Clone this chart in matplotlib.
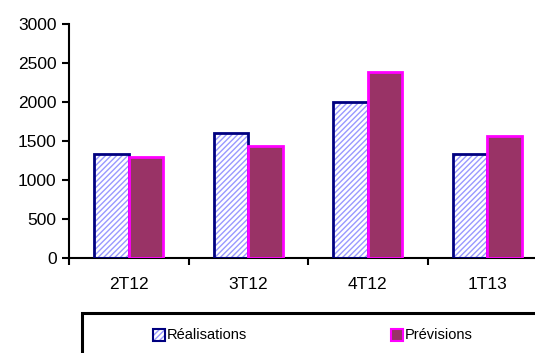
import matplotlib.pyplot as plt
from matplotlib.patches import Rectangle
import numpy as np

plt.rcParams['font.family'] = ['Liberation Sans', 'DejaVu Sans']
plt.rcParams['hatch.linewidth'] = 1.0

# Quarterly figures
quarters = ["2T12", "3T12", "4T12", "1T13"]
realisations = [1330, 1600, 2000, 1330]
previsions = [1300, 1430, 2380, 1560]
yticks = [0, 500, 1000, 1500, 2000, 2500, 3000]

W, H = 535, 353
fig = plt.figure(figsize=(W / 100, H / 100), dpi=100)
ax = fig.add_axes([69 / W, 95 / H, 478 / W, 234 / H])

x = np.arange(len(quarters))
bw = 0.29

# hatched bars: stripes first, then the navy outline on top
ax.bar(x - bw / 2, realisations, bw, facecolor="white", edgecolor="#9999ff",
       hatch="//////", linewidth=0, zorder=2)
ax.bar(x - bw / 2, realisations, bw, fill=False, edgecolor="#000080",
       linewidth=2, zorder=3)
ax.bar(x + bw / 2, previsions, bw, color="#993366", edgecolor="#ff00ff",
       linewidth=2, zorder=3)

ax.set_xlim(-0.5, 3.5)
ax.set_ylim(0, 3000)
ax.set_yticks(yticks)
ax.tick_params(axis="y", labelsize=12.5, length=5, width=1.5, pad=4)

# boundary ticks on the category axis, labels centred between them
ax.set_xticks(np.arange(-0.5, 4, 1))
ax.set_xticklabels([])
ax.set_xticks(x, minor=True)
ax.set_xticklabels(quarters, minor=True)
ax.tick_params(axis="x", which="major", length=5, width=1.5)
ax.tick_params(axis="x", which="minor", length=0, labelsize=12.5, pad=14)

for side in ("top", "right"):
    ax.spines[side].set_visible(False)
for side in ("left", "bottom"):
    ax.spines[side].set_linewidth(1.5)

# legend frame
fig.patches.append(Rectangle((82 / W, -0.05), 470 / W, (H - 313) / H + 0.05,
                             transform=fig.transFigure, fill=False,
                             edgecolor="black", linewidth=2.2))
ms = 12
fig.patches.append(Rectangle((153 / W, (H - 341) / H), ms / W, ms / H,
                             transform=fig.transFigure, facecolor="white",
                             edgecolor="#9999ff", hatch="//////", linewidth=0))
fig.patches.append(Rectangle((153 / W, (H - 341) / H), ms / W, ms / H,
                             transform=fig.transFigure, fill=False,
                             edgecolor="#000080", linewidth=1.5))
fig.patches.append(Rectangle((391 / W, (H - 341) / H), ms / W, ms / H,
                             transform=fig.transFigure, facecolor="#993366",
                             edgecolor="#ff00ff", linewidth=1.5))
fig.text(167 / W, (H - 335) / H, "Réalisations", fontsize=10.5, va="center")
fig.text(405 / W, (H - 335) / H, "Prévisions", fontsize=10.5, va="center")

fig.savefig("out.png", dpi=100)
